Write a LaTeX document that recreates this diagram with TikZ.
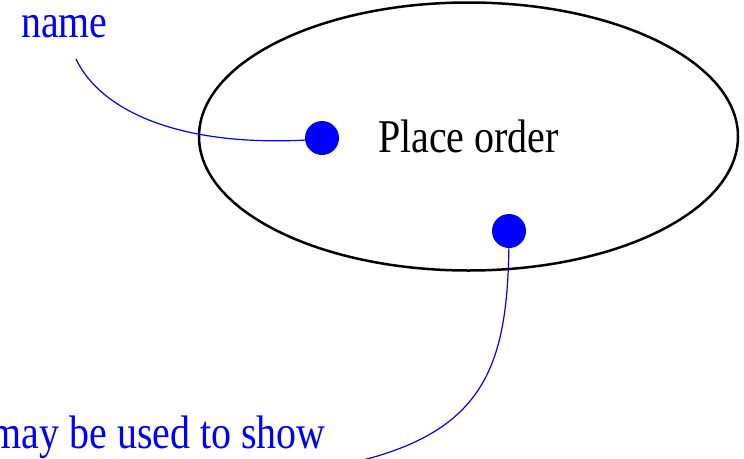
\documentclass[tikz,border=0pt]{standalone}
\usepackage{fontspec}
\newfontfamily\figfont[FakeStretch=0.85]{Liberation Serif}
\usetikzlibrary{shapes.geometric}
\definecolor{noteBlue}{HTML}{0000FF}
\tikzset{
  caseE/.style={ellipse, draw=black, line width=2.5pt, inner sep=0pt,
                minimum width=539pt, minimum height=268pt,
                font=\figfont\fontsize{47}{50}\selectfont},
  dotB/.style={circle, fill=noteBlue, inner sep=0pt, minimum size=34pt},
  noteB/.style={inner sep=0pt, text=noteBlue,
                font=\figfont\fontsize{47}{50}\selectfont},
  lineB/.style={noteBlue, line width=1.2pt},
}

\begin{document}
\begin{tikzpicture}[x=1pt, y=-1pt]
    \useasboundingbox (0,0) rectangle (744,458);
    \node[caseE] (uc) at (468.5,136.5) {Place order};
    \node[noteB, anchor=base west] (nm) at (21,37) {name};
    \node[noteB, anchor=base east] (sh) at (326,448) {may be used to show};
    \coordinate (nmfoot) at (76,59);
    \coordinate (shfoot) at (355,462);
    \draw[lineB] (nmfoot) .. controls (100,110) and (180,150) .. (322,139);
    \draw[lineB] (509,231) .. controls (509,360) and (490,430) .. (shfoot);
    \node[dotB] (d1) at (322,138) {};
    \node[dotB] (d2) at (509,231) {};
\end{tikzpicture}
\end{document}
